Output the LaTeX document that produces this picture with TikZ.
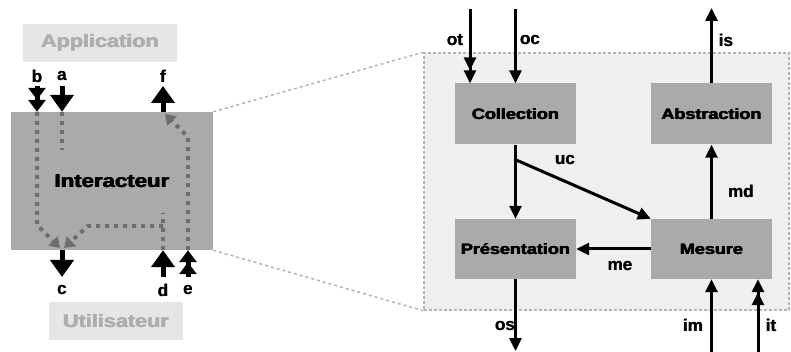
\documentclass[tikz,border=0pt]{standalone}
\usepackage{fontspec}
\setmainfont{Liberation Sans}
\newfontfamily\heavyfont[FakeStretch=1.2]{Liberation Sans Bold}
\newfontfamily\lblfont{Liberation Sans Bold}
\newcommand\hv[1]{\rlap{#1}\kern0.45pt\rlap{#1}\kern0.45pt#1}
\newcommand\hl[1]{\rlap{#1}\kern0.4pt#1}
\usetikzlibrary{arrows.meta,calc}
\definecolor{boxgray}{HTML}{AAAAAA}
\definecolor{lightbox}{HTML}{E6E6E6}
\definecolor{lighttext}{HTML}{AEAEAE}
\definecolor{panelfill}{HTML}{EFEFEF}
\definecolor{panelline}{HTML}{B4B4B4}
\definecolor{dashgray}{HTML}{6E6E6E}
\begin{document}
\begin{tikzpicture}[x=1pt,y=-1pt,
  box/.style={fill=boxgray, inner sep=0pt, minimum width=121pt, minimum height=61pt,
    font=\heavyfont\fontsize{15}{18}\selectfont},
  outerbox/.style={fill=lightbox, inner sep=0pt, text=lighttext,
    font=\heavyfont\fontsize{18}{21}\selectfont},
  interbox/.style={fill=boxgray, inner sep=0pt,
    font=\heavyfont\fontsize{18.5}{21}\selectfont},
  lbl/.style={inner sep=0pt, font=\lblfont\fontsize{17}{20}\selectfont},
  panelbox/.style={fill=panelfill, draw=panelline, line width=1.5pt, dash pattern=on 3pt off 2pt, inner sep=0pt},
  zoomline/.style={draw=panelline, line width=1.5pt, dash pattern=on 3pt off 3pt},
  bigarrow/.style={line width=5pt, -{Triangle[width=23pt,length=17pt]}},
  bigdbl/.style={line width=5pt, -{Triangle[width=17pt,length=12pt] Triangle[width=17pt,length=12pt]}},
  gdash/.style={draw=dashgray, line width=4pt, dash pattern=on 4pt off 5pt},
  gtip/.style={-{Triangle[width=13pt,length=10pt]}},
  rarr/.style={line width=3pt, -{Triangle[width=12pt,length=13pt]}},
  rdbl/.style={line width=3pt, -{Triangle[width=12pt,length=13pt] Triangle[width=12pt,length=13pt]}}
]
\useasboundingbox (0,0) rectangle (791,352);

% ---------- left part ----------
\node[outerbox, minimum width=154pt, minimum height=38pt] (app) at (100,43) {\hv{Application}};
\node[outerbox, minimum width=134pt, minimum height=38pt] (util) at (116,321) {\hv{Utilisateur}};
\node[interbox, minimum width=202pt, minimum height=138pt] (inter) at (112,181) {\hv{Interacteur}};

% zoom panel
\node[panelbox, minimum width=365pt, minimum height=257pt] (panel) at (606.5,181.5) {};
\draw[zoomline] (inter.north east) -- (panel.north west);
\draw[zoomline] (inter.south east) -- (panel.south west);

% arrows of the interactor
\coordinate (bTop) at (37,86);
\coordinate (aTop) at (62,86);
\coordinate (fTip) at (163,86);
\coordinate (cTip) at (62,277);
\coordinate (dBot) at (163,277);
\coordinate (eBot) at (188,277);

\draw[bigdbl] (bTop) -- (bTop |- inter.north);
\draw[bigarrow] (aTop) -- (aTop |- inter.north);
\draw[bigarrow] (fTip |- inter.north) -- (fTip);
\draw[bigarrow] (cTip |- inter.south) -- (cTip);
\draw[bigarrow] (dBot) -- (dBot |- inter.south);
\draw[bigdbl] (eBot) -- (eBot |- inter.south);

% internal dashed flows
\coordinate (cIn) at (62,248);
\draw[gdash] (aTop |- inter.north) -- (62,150);
\draw[gdash, gtip] (bTop |- inter.north) -- (37,225) -- ($(cIn)+(-2,0)$);
\draw[gdash] (dBot |- inter.south) -- (163,213);
\draw[gdash, gtip] (163,226) -- (88,226) -- ($(cIn)+(2,0)$);
\draw[gdash, gtip] (eBot |- inter.south) -- (188,137) -- (165,114);

% labels left
\node[lbl] (lb) at (37,76) {\hl{b}};
\node[lbl] (la) at (62,76) {\hl{a}};
\node[lbl] (lf) at (163,76) {\hl{f}};
\node[lbl] (lc) at (62,290) {\hl{c}};
\node[lbl] (ld) at (163,290) {\hl{d}};
\node[lbl] (le) at (188,290) {\hl{e}};

% ---------- right part ----------
\node[box] (coll) at (515.5,114) {\hv{Collection}};
\node[box] (abst) at (711.5,114) {\hv{Abstraction}};
\node[box, minimum height=60pt] (pres) at (515.5,249) {\hv{Présentation}};
\node[box, minimum height=60pt] (mes) at (711.5,249) {\hv{Mesure}};

\coordinate (otTop) at (470,9);
\coordinate (ocTop) at (515.5,9);
\coordinate (isTip) at (711.5,8);
\coordinate (osTip) at (515.5,351);
\coordinate (imBot) at (711.5,352);
\coordinate (itBot) at (758,352);
\coordinate (ucS) at ($(coll.south)+(0,15)$);

\draw[rdbl] (otTop) -- (otTop |- coll.north);
\draw[rarr] (ocTop) -- (coll.north);
\draw[rarr] (abst.north) -- (isTip);
\draw[rarr] (coll.south) -- (pres.north);
\draw[rarr] (ucS) -- (mes.north west);
\draw[rarr] (mes.north) -- (abst.south);
\draw[rarr] (mes.west) -- (pres.east);
\draw[rarr] (pres.south) -- (osTip);
\draw[rarr] (imBot) -- (mes.south);
\draw[rdbl] (itBot) -- (itBot |- mes.south);

\node[lbl] (lot) at (455,40) {\hl{ot}};
\node[lbl] (loc) at (530,40) {\hl{oc}};
\node[lbl] (lis) at (726,40) {\hl{is}};
\node[lbl] (luc) at (565,160) {\hl{uc}};
\node[lbl] (lmd) at (741,191) {\hl{md}};
\node[lbl] (lme) at (620,266) {\hl{me}};
\node[lbl] (los) at (505,326) {\hl{os}};
\node[lbl] (lim) at (693,325) {\hl{im}};
\node[lbl] (lit) at (771,325) {\hl{it}};
\end{tikzpicture}
\end{document}
